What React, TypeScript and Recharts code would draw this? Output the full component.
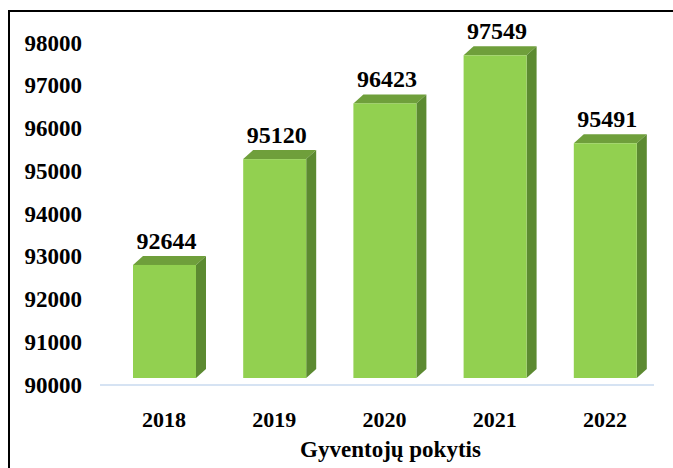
import React from 'react';
import { BarChart, Bar, XAxis, YAxis, ReferenceLine, LabelList } from 'recharts';

const YEARS = ['2018', '2019', '2020', '2021', '2022'];
const POPULATION = [92644, 95120, 96423, 97549, 95491];
const Y_TICKS = [90000, 91000, 92000, 93000, 94000, 95000, 96000, 97000, 98000];
const AXIS_TITLE = 'Gyventojų pokytis';

const data = YEARS.map((year, i) => ({ year, value: POPULATION[i] }));

const FONT = 'Liberation Serif, serif';
const txt = (size: number) => ({ fontFamily: FONT, fontWeight: 700, fontSize: size });
const COLORS = {
  front: '#92D050',
  top: '#6F9F3B',
  side: '#5C8A31',
  floor: '#D6E3F3',
  text: '#000000',
  frame: '#000000',
};

// depth of the fake 3D box
const DX = 10;
const DY = 9;

const Box3D = (props: any) => {
  const { x, y, width, height } = props;
  const r = x + width;
  const b = y + height;
  return (
    <g>
      <polygon
        points={`${x},${y} ${x + DX},${y - DY} ${r + DX},${y - DY} ${r},${y}`}
        fill={COLORS.top}
      />
      <polygon
        points={`${r},${y} ${r + DX},${y - DY} ${r + DX},${b - DY} ${r},${b}`}
        fill={COLORS.side}
      />
      <rect x={x} y={y} width={width} height={height} fill={COLORS.front} />
    </g>
  );
};

const ValueLabel = (props: any) => {
  const { x, y, width, value } = props;
  return (
    <text
      x={x + width / 2 + 2}
      y={y - 24}
      textAnchor="middle"
      dominantBaseline="central"
      style={txt(24)}
      fill={COLORS.text}
    >
      {value}
    </text>
  );
};

const YTick = (props: any) => {
  const { x, y, payload } = props;
  return (
    <text x={x} y={y + 7} textAnchor="end" dominantBaseline="central" style={txt(23)} fill={COLORS.text}>
      {payload.value}
    </text>
  );
};

const XTick = (props: any) => {
  const { x, y, payload } = props;
  return (
    <text x={x} y={y + 33} textAnchor="middle" dominantBaseline="central" style={txt(22)} fill={COLORS.text}>
      {payload.value}
    </text>
  );
};

const FloorLine = (props: any) => {
  const { x1, y1, x2 } = props;
  return <line x1={x1 - 9} y1={y1 + 7} x2={x2 - 6} y2={y1 + 7} stroke={COLORS.floor} strokeWidth={2} />;
};

export default function App() {
  return (
    <div style={{ position: 'absolute', left: 0, top: 0, width: 673, height: 468, overflow: 'hidden', background: '#fff' }}>
      <div
        style={{
          position: 'absolute',
          left: 8,
          top: 10,
          width: 720,
          height: 520,
          border: `2px solid ${COLORS.frame}`,
        }}
      />
      <div style={{ position: 'absolute', left: 0, top: 0 }}>
        <BarChart width={673} height={468} data={data} margin={{ top: 36, right: 13, left: 0, bottom: 0 }}>
          <YAxis
            domain={[90000, 98000]}
            ticks={Y_TICKS}
            width={109}
            axisLine={false}
            tickLine={false}
            tickSize={0}
            tickMargin={27}
            tick={<YTick />}
            interval={0}
          />
          <XAxis
            dataKey="year"
            height={90}
            axisLine={false}
            tickLine={false}
            tick={<XTick />}
            label={(p: any) => {
              const vb = p.viewBox;
              return (
                <text
                  x={vb.x + vb.width / 2 + 6}
                  y={vb.y + 71}
                  textAnchor="middle"
                  dominantBaseline="central"
                  style={txt(23)}
                  fill={COLORS.text}
                >
                  {AXIS_TITLE}
                </text>
              );
            }}
          />
          <ReferenceLine y={90000} shape={<FloorLine />} />
          <Bar dataKey="value" barSize={63} shape={<Box3D />} isAnimationActive={false}>
            <LabelList dataKey="value" content={<ValueLabel />} />
          </Bar>
        </BarChart>
      </div>
    </div>
  );
}
